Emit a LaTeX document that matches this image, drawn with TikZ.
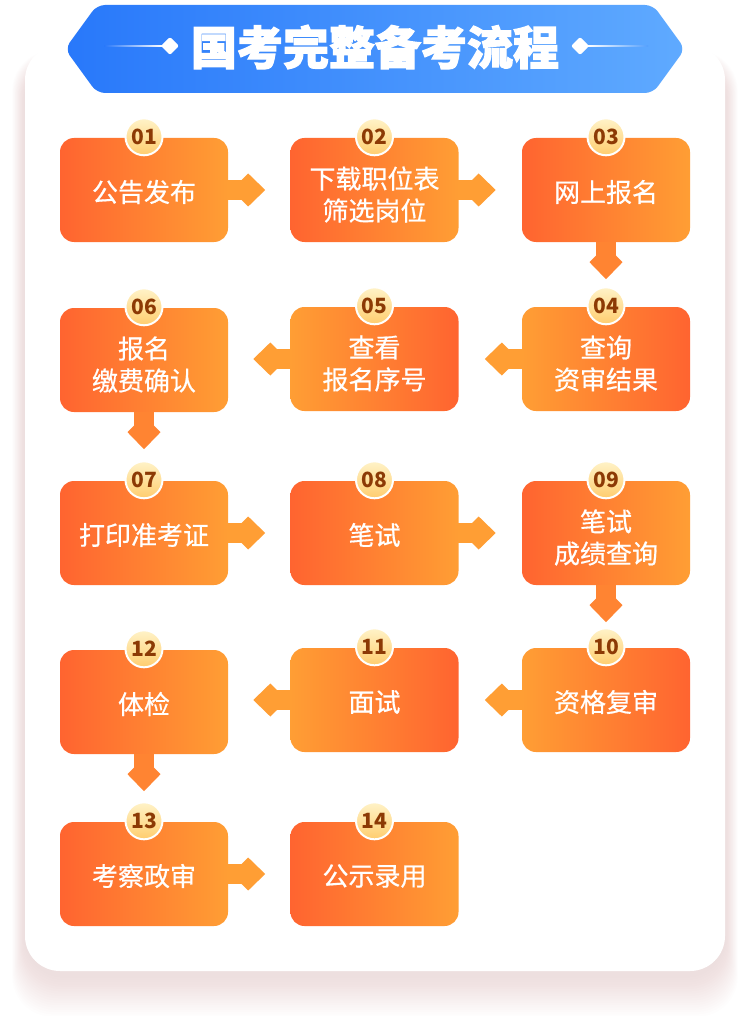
\documentclass[tikz,border=0pt]{standalone}
\usepackage{fontspec}
\newfontfamily\cjk{Noto Sans CJK SC}
\newfontfamily\cjkm[FakeBold=0.6]{Noto Sans CJK SC}
\newfontfamily\cjkb[BoldFeatures={FakeBold=2.4}]{Noto Sans CJK SC}
\definecolor{odark}{RGB}{255,100,48}
\definecolor{olight}{RGB}{255,158,52}
\definecolor{omid}{RGB}{255,132,50}
\definecolor{bdark}{RGB}{40,120,250}
\definecolor{blight}{RGB}{95,170,255}
\definecolor{byl}{RGB}{255,243,200}
\definecolor{byd}{RGB}{255,205,110}
\definecolor{btxt}{RGB}{140,58,5}
\definecolor{shad}{RGB}{232,196,196}
\tikzset{
  stepbox/.style={rounded corners=14pt, minimum width=168pt, minimum height=104pt,
    inner sep=0pt},
  boxtext/.style={text=white, align=center, inner sep=0pt,
    font=\cjkm\fontsize{26}{32}\selectfont},
  one/.style={label={[boxtext, yshift=-2pt]center:{#1}}},
  two/.style={label={[boxtext, yshift=-4.5pt]center:{#1}}},
  fwd/.style={left color=odark, right color=olight},
  rev/.style={left color=olight, right color=odark},
  badge/.style={circle, minimum size=37pt, inner sep=0pt, draw=white, line width=2pt,
    top color=byl, bottom color=byd, text=btxt, font=\cjk\bfseries\fontsize{21}{21}\selectfont},
  titletext/.style={text=white, inner sep=0pt, font=\cjkb\bfseries\fontsize{46}{46}\selectfont},
}
\newcommand\arrR[2]{\begin{scope}[shift={(#1.east)}]
  \fill[#2] (-0.5,-10) rectangle (20,10);
  \fill[#2] (3,0) -- (20,-16.5) -- (37,0) -- (20,16.5) -- cycle;
\end{scope}}
\newcommand\arrL[2]{\begin{scope}[shift={(#1.west)}, xscale=-1]
  \fill[#2] (-0.5,-10) rectangle (20,10);
  \fill[#2] (3,0) -- (20,-16.5) -- (37,0) -- (20,16.5) -- cycle;
\end{scope}}
\newcommand\arrD[2]{\begin{scope}[shift={(#1.south)}]
  \fill[#2] (-10,-0.5) rectangle (10,20);
  \fill[#2] (0,3) -- (16.5,20) -- (0,37) -- (-16.5,20) -- cycle;
\end{scope}}
\begin{document}
\begin{tikzpicture}[x=1pt, y=-1pt]
\useasboundingbox (0,0) rectangle (750,1016);
\fill[white] (0,0) rectangle (750,1016);
% card shadow
\foreach \i in {1,...,18}{
  \fill[shad, opacity=0.03, rounded corners=40pt]
    (25-\i*0.7, 60-\i*0.5) rectangle (725+\i*0.7, 975+\i*2.3);
}
% card
\fill[white, rounded corners=35pt] (25,45) rectangle (725,971);
% banner
\shade[left color=bdark, right color=blight, rounded corners=8pt]
  (65,49) -- (97,5) -- (653,5) -- (685,49) -- (653,93) -- (97,93) -- cycle;
\shade[left color=bdark, right color=white] (104,45.4) rectangle (162,46.6);
\shade[left color=white, right color=blight!80!bdark] (588,45.4) rectangle (648,46.6);
\fill[white, rounded corners=2pt] (170,37) -- (179,46) -- (170,55) -- (161,46) -- cycle;
\fill[white, rounded corners=2pt] (580,37) -- (589,46) -- (580,55) -- (571,46) -- cycle;
\node[titletext] (title) at (375,47) {国考完整备考流程};
% boxes
\node[stepbox, fwd, one={公告发布}]          (b1)  at (144,190)   {};
\node[stepbox, fwd, two={下载职位表\\筛选岗位}] (b2)  at (374.5,190) {};
\node[stepbox, fwd, one={网上报名}]          (b3)  at (606,190)   {};
\node[stepbox, rev, two={查询\\资审结果}]      (b4)  at (606,359)   {};
\node[stepbox, rev, two={查看\\报名序号}]      (b5)  at (374.5,359) {};
\node[stepbox, fwd, two={报名\\缴费确认}]      (b6)  at (144,360)   {};
\node[stepbox, fwd, one={打印准考证}]         (b7)  at (144,533)   {};
\node[stepbox, fwd, one={笔试}]              (b8)  at (374.5,533) {};
\node[stepbox, fwd, two={笔试\\成绩查询}]      (b9)  at (606,533)   {};
\node[stepbox, rev, one={资格复审}]          (b10) at (606,700)   {};
\node[stepbox, rev, one={面试}]              (b11) at (374.5,700) {};
\node[stepbox, fwd, one={体检}]              (b12) at (144,702)   {};
\node[stepbox, fwd, one={考察政审}]          (b13) at (144,874)   {};
\node[stepbox, fwd, one={公示录用}]          (b14) at (374.5,874) {};
% badges
\foreach \k/\t in {1/01,2/02,3/03,4/04,5/05,6/06,7/07,8/08,9/09,10/10,11/11,12/12,13/13,14/14}{
  \node[badge] (n\k) at ([yshift=1pt]b\k.north) {\t};
}
% connectors
\arrR{b1}{olight}
\arrR{b2}{olight}
\arrD{b3}{omid}
\arrL{b4}{olight}
\arrL{b5}{olight}
\arrD{b6}{omid}
\arrR{b7}{olight}
\arrR{b8}{olight}
\arrD{b9}{omid}
\arrL{b10}{olight}
\arrL{b11}{olight}
\arrD{b12}{omid}
\arrR{b13}{olight}
\end{tikzpicture}
\end{document}
